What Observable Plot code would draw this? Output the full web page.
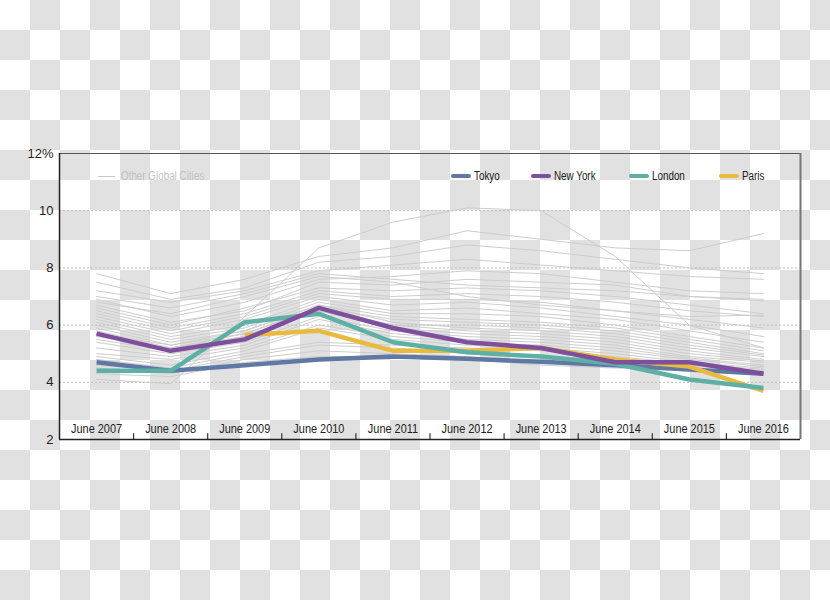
<!DOCTYPE html>
<html>
<head>
<meta charset="utf-8">
<script src="https://cdn.jsdelivr.net/npm/d3@7"></script>
<script src="https://cdn.jsdelivr.net/npm/@observablehq/plot@0.6"></script>
<style>
html, body { margin: 0; padding: 0; }
body {
  width: 830px; height: 600px; overflow: hidden;
  background: repeating-conic-gradient(#e1e1e1 0 25%, #ffffff 0 50%) 0 0 / 60px 60px;
}
#chart { position: relative; width: 830px; height: 600px; }
#chart svg { position: absolute; left: 0; top: 0; }
.legend {
  position: absolute; top: 170px; height: 12px;
  font-family: "Liberation Sans", Arial, sans-serif;
  font-size: 12px; line-height: 12px; display: flex; align-items: center; white-space: nowrap;
}
.legend .lbl { display: inline-block; transform: scaleX(0.82); transform-origin: left center; }
.swatch { display: inline-block; width: 20px; height: 4px; border-radius: 2px; margin-right: 3px; }
.thin { display: inline-block; width: 17px; height: 1px; margin-right: 6px; }
</style>
</head>
<body>
<div id="chart"></div>
<script>
// ---- data ----
const years = [2007, 2008, 2009, 2010, 2011, 2012, 2013, 2014, 2015, 2016];
const yearLabels = ["June 2007", "June 2008", "June 2009", "June 2010", "June 2011",
                    "June 2012", "June 2013", "June 2014", "June 2015", "June 2016"];
const yTicks = [2, 4, 6, 8, 10, 12];

const tokyo   = [4.7, 4.4, 4.6, 4.8, 4.9, 4.82, 4.72, 4.6, 4.45, 4.3];
const newYork = [5.7, 5.1, 5.5, 6.6, 5.9, 5.4, 5.2, 4.7, 4.7, 4.3];
const london  = [4.4, 4.4, 6.1, 6.4, 5.4, 5.05, 4.9, 4.65, 4.1, 3.8];
const paris   = [null, null, 5.65, 5.8, 5.1, 5.1, 5.2, 4.8, 4.55, 3.7];

const seriesNames  = ["Tokyo", "New York", "London", "Paris"];
const seriesColors = ["#6079a4", "#7d4f9c", "#5eafa4", "#e8bb3e"];
const otherLabel = "Other Global Cities";

const otherCities = [
  [4.1, 3.95, 6.3, 8.7, 9.6, 10.1, 10.0, 8.4, 6.0, 5.2],
  [7.8, 7.1, 7.6, 8.4, 8.7, 9.3, 9.0, 8.7, 8.6, 9.2],
  [7.5, 6.9, 7.3, 8.2, 8.4, 8.8, 8.6, 8.3, 8.0, 7.8],
  [7.2, 6.8, 7.2, 7.9, 8.1, 8.3, 8.1, 7.9, 7.7, 7.6],
  [7.0, 6.6, 7.1, 7.8, 7.6, 7.4, 7.3, 7.2, 7.0, 6.85],
  [6.9, 6.3, 6.8, 7.6, 7.7, 7.9, 7.8, 7.5, 7.2, 7.1],
  [6.8, 6.4, 7.0, 7.7, 7.5, 7.0, 6.7, 6.5, 6.3, 6.35],
  [6.7, 6.1, 6.5, 7.5, 7.4, 7.6, 7.5, 7.4, 7.0, 6.9],
  [6.6, 6.0, 6.6, 7.3, 7.2, 7.3, 7.2, 7.0, 6.7, 6.4],
  [6.5, 5.9, 6.4, 7.2, 7.0, 7.1, 7.0, 6.8, 6.5, 6.3],
  [6.4, 5.8, 6.3, 7.1, 6.9, 6.9, 6.8, 6.5, 6.2, 5.9],
  [6.3, 5.7, 6.2, 7.0, 6.7, 6.8, 6.6, 6.3, 6.0, 5.6],
  [6.2, 5.6, 6.0, 6.9, 6.5, 6.6, 6.4, 6.2, 5.8, 5.4],
  [6.1, 5.5, 5.9, 6.8, 6.4, 6.4, 6.3, 6.0, 5.6, 5.2],
  [6.0, 5.4, 5.8, 6.7, 6.3, 6.2, 6.1, 5.9, 5.5, 5.1],
  [5.9, 5.3, 5.7, 6.6, 6.2, 6.1, 6.0, 5.8, 5.4, 5.0],
  [5.8, 5.2, 5.6, 6.5, 6.0, 6.0, 5.9, 5.7, 5.3, 4.95],
  [5.7, 5.3, 5.8, 6.7, 6.1, 5.9, 5.8, 5.6, 5.2, 4.9],
  [5.6, 5.2, 5.7, 6.6, 6.0, 5.8, 5.7, 5.5, 5.1, 4.8],
  [5.5, 5.1, 5.6, 6.5, 5.9, 5.7, 5.6, 5.4, 5.0, 4.75],
  [5.4, 5.0, 5.4, 6.3, 5.8, 5.6, 5.5, 5.3, 4.9, 4.7],
  [5.2, 4.9, 5.3, 6.2, 5.7, 5.5, 5.4, 5.2, 4.85, 4.6],
  [5.0, 4.8, 5.2, 6.0, 5.6, 5.4, 5.3, 5.1, 4.8, 4.55],
  [4.9, 4.6, 5.1, 5.9, 5.5, 5.3, 5.2, 5.0, 4.7, 4.5],
  [4.8, 4.5, 5.0, 5.4, 5.3, 5.2, 5.1, 4.9, 4.65, 4.45],
  [4.6, 4.4, 4.9, 5.3, 5.2, 5.0, 4.9, 4.8, 4.6, 4.4],
  [4.5, 4.3, 4.8, 5.1, 5.0, 4.9, 4.7, 4.6, 4.5, 4.35],
  [4.3, 4.2, 4.7, 4.9, 4.9, 4.8, 4.6, 4.5, 4.4, 4.3]
];

// ---- tables ----
const otherRows = otherCities.flatMap((vals, i) =>
  vals.map((v, j) => ({id: i, year: years[j], value: v})));
const mainSeries = [tokyo, newYork, london, paris];
const mainRows = name => {
  const vals = mainSeries[seriesNames.indexOf(name)];
  return vals.map((v, j) => ({city: name, year: years[j], value: v}));
};
const labelRows = years.map((y, i) => ({year: y, label: yearLabels[i]}));
const boundaries = years.slice(0, -1).map(y => y + 0.5);

const drawOrder = ["Tokyo", "Paris", "London", "New York"];

const chart = Plot.plot({
  width: 830, height: 600,
  marginLeft: 59, marginRight: 30, marginTop: 153, marginBottom: 161,
  style: {background: "transparent", fontFamily: '"Liberation Sans", Arial, sans-serif', overflow: "visible"},
  x: {domain: [years[0] - 0.5, years[years.length - 1] + 0.5], axis: null},
  y: {domain: [yTicks[0], yTicks[yTicks.length - 1]], axis: null},
  marks: [
    Plot.gridY(yTicks.slice(1, -1), {stroke: "#bdbdbd", strokeOpacity: 1, strokeDasharray: "2,2"}),
    Plot.line(otherRows, {x: "year", y: "value", z: "id", stroke: "#cdcdcd", strokeWidth: 1}),
    ...drawOrder.map(name => Plot.line(mainRows(name), {
      x: "year", y: "value",
      stroke: seriesColors[seriesNames.indexOf(name)],
      strokeWidth: 4.5, strokeLinejoin: "round", strokeLinecap: "butt"
    })),
    Plot.text(labelRows, {x: "year", y: yTicks[0], text: "label", dy: -11,
      fontSize: 13, fill: "#222"}),
    Plot.ruleX(boundaries, {y1: yTicks[0], y2: yTicks[0] + 0.2, stroke: "#333", strokeWidth: 1.2}),
    Plot.ruleY([yTicks[yTicks.length - 1]], {stroke: "#555", strokeWidth: 1}),
    Plot.ruleX([years[years.length - 1] + 0.5], {stroke: "#777", strokeWidth: 2}),
    Plot.ruleX([years[0] - 0.5], {stroke: "#222", strokeWidth: 1.5}),
    Plot.ruleY([yTicks[0]], {stroke: "#222", strokeWidth: 1.5}),
    Plot.axisY(yTicks, {tickSize: 0, tickPadding: 6, fontSize: 13, fill: "#222", label: null,
      tickFormat: d => d === yTicks[yTicks.length - 1] ? d + "%" : String(d)})
  ]
});

const root = document.getElementById("chart");
root.appendChild(chart);

// condensed look for the month labels (squeeze glyphs to 84% of natural width)
d3.select(chart).selectAll('g[aria-label="text"] text').each(function() {
  const len = this.getComputedTextLength();
  if (len > 0) {
    this.setAttribute("textLength", (len * 0.84).toFixed(1));
    this.setAttribute("lengthAdjust", "spacingAndGlyphs");
  }
});

// ---- legend (HTML overlay) ----
function addLegend(left, swatchHtml, text, color) {
  const div = document.createElement("div");
  div.className = "legend";
  div.style.left = left + "px";
  div.innerHTML = swatchHtml + `<span class="lbl" style="color:${color}">${text}</span>`;
  root.appendChild(div);
}
addLegend(98, `<span class="thin" style="background:#c8c8c8"></span>`, otherLabel, "#c2c2c2");
const legendLefts = [451, 531, 629, 719];
seriesNames.forEach((name, i) => {
  addLegend(legendLefts[i], `<span class="swatch" style="background:${seriesColors[i]}"></span>`, name, "#222");
});
</script>
</body>
</html>
